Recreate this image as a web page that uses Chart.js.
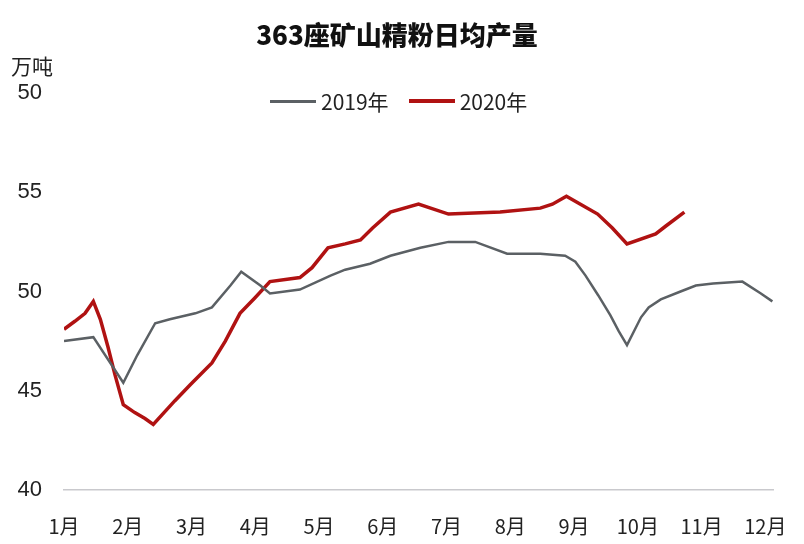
<!DOCTYPE html>
<html lang="zh">
<head>
    <meta charset="UTF-8">
    <title>363座矿山精粉日均产量</title>
    <script src="https://cdn.jsdelivr.net/npm/chart.js"></script>
    <style>
        html, body { margin: 0; padding: 0; background: #ffffff; }
        .wrap { position: relative; width: 804px; height: 544px; }
        canvas { position: absolute; left: 0; top: 0; }
        .title {
            position: absolute; left: 0; width: 794px; top: 15px; text-align: center;
            font-family: "Noto Sans CJK SC", sans-serif; font-weight: 900; font-size: 26px; color: #111;
        }
        .unit {
            position: absolute; left: 11px; top: 50px;
            font-family: "Noto Sans CJK SC", sans-serif; font-size: 21px; color: #222;
        }
        .legend {
            position: absolute; top: 86px; left: 270px; display: flex; align-items: center;
            font-family: "Noto Sans CJK SC", sans-serif; font-size: 21px; color: #222;
        }
        .legend .item { display: flex; align-items: center; margin-right: 20px; }
        .legend .swatch { width: 46px; margin-right: 5px; }
    </style>
</head>
<body>
    <div class="wrap">
        <canvas id="chart" width="804" height="544"></canvas>
        <div class="title">363座矿山精粉日均产量</div>
        <div class="unit">万吨</div>
        <div class="legend">
            <div class="item"><div class="swatch" style="height:3px;background:#5b6064"></div>2019年</div>
            <div class="item"><div class="swatch" style="height:4px;background:#b01212"></div>2020年</div>
        </div>
    </div>

    <script>
        const monthLabels = ['1月', '2月', '3月', '4月', '5月', '6月', '7月', '8月', '9月', '10月', '11月', '12月'];
        const yTickLabels = ['40', '45', '50', '55', '50'];

        // position along the year, in months (1 = start of 1月)
        const dates2019 = [1.00, 1.46, 1.93, 2.15, 2.43, 2.66, 3.06, 3.32, 3.61, 3.78, 4.08, 4.23, 4.70, 5.18, 5.41,
            5.80, 6.12, 6.59, 7.03, 7.45, 7.95, 8.47, 8.86, 9.02, 9.18, 9.38, 9.57, 9.70, 9.83, 10.05,
            10.17, 10.36, 10.67, 10.91, 11.18, 11.64, 11.93, 12.11];
        const values2019 = [47.5, 47.7, 45.4, 46.8, 48.4, 48.6, 48.9, 49.2, 50.3, 51.0, 50.3, 49.9, 50.1, 50.8, 51.1,
            51.4, 51.8, 52.2, 52.5, 52.5, 51.9, 51.9, 51.8, 51.5, 50.8, 49.8, 48.8, 48.0, 47.3, 48.7,
            49.2, 49.6, 50.0, 50.3, 50.4, 50.5, 49.9, 49.5];

        const dates2020 = [1.00, 1.17, 1.33, 1.46, 1.57, 1.69, 1.80, 1.93, 2.11, 2.27, 2.40, 2.54, 2.74, 2.98, 3.32,
            3.53, 3.76, 4.00, 4.23, 4.70, 4.89, 5.14, 5.41, 5.65, 5.84, 6.12, 6.56, 7.03, 7.84, 8.47,
            8.66, 8.88, 9.10, 9.37, 9.60, 9.83, 10.28, 10.44, 10.73];
        const values2020 = [48.1, 48.5, 48.9, 49.5, 48.6, 47.2, 45.8, 44.3, 43.9, 43.6, 43.3, 43.8, 44.5, 45.3, 46.4,
            47.5, 48.9, 49.7, 50.5, 50.7, 51.2, 52.2, 52.4, 52.6, 53.2, 54.0, 54.4, 53.9, 54.0, 54.2,
            54.4, 54.8, 54.4, 53.9, 53.2, 52.4, 52.9, 53.3, 54.0];

        const toPoints = (xs, ys) => xs.map((x, i) => ({ x: x, y: ys[i] }));

        new Chart(document.getElementById('chart').getContext('2d'), {
            type: 'line',
            data: {
                datasets: [{
                    label: '2019年',
                    data: toPoints(dates2019, values2019),
                    borderColor: '#5b6064',
                    borderWidth: 2.5,
                    pointRadius: 0,
                    tension: 0
                }, {
                    label: '2020年',
                    data: toPoints(dates2020, values2020),
                    borderColor: '#b01212',
                    borderWidth: 3.5,
                    pointRadius: 0,
                    tension: 0
                }]
            },
            options: {
                responsive: false,
                animation: false,
                layout: { padding: { left: 0, right: 31, top: 93, bottom: 0 } },
                plugins: { legend: { display: false }, title: { display: false }, tooltip: { enabled: false } },
                scales: {
                    x: {
                        type: 'linear',
                        min: 1,
                        max: 12.12,
                        grid: { display: false, drawTicks: false },
                        border: { display: true, color: '#c9c9cd', width: 1.5 },
                        ticks: {
                            stepSize: 1,
                            includeBounds: false,
                            autoSkip: false,
                            maxRotation: 0,
                            padding: 24,
                            color: '#222',
                            font: { family: '"Noto Sans CJK SC", sans-serif', size: 20 },
                            callback: (v) => Number.isInteger(v) ? monthLabels[v - 1] : ''
                        },
                        afterFit: (scale) => {
                            scale.height = 54;
                            scale.paddingLeft = 0;
                            scale.paddingRight = 0;
                        }
                    },
                    y: {
                        min: 40,
                        max: 60,
                        grid: { display: false, drawTicks: false },
                        border: { display: false },
                        ticks: {
                            stepSize: 5,
                            padding: 22,
                            color: '#222',
                            font: { family: '"Liberation Sans Narrow", "Liberation Sans", sans-serif', size: 22 },
                            callback: (v, i) => yTickLabels[i]
                        },
                        afterFit: (scale) => { scale.width = 64; }
                    }
                }
            }
        });
    </script>
</body>
</html>
